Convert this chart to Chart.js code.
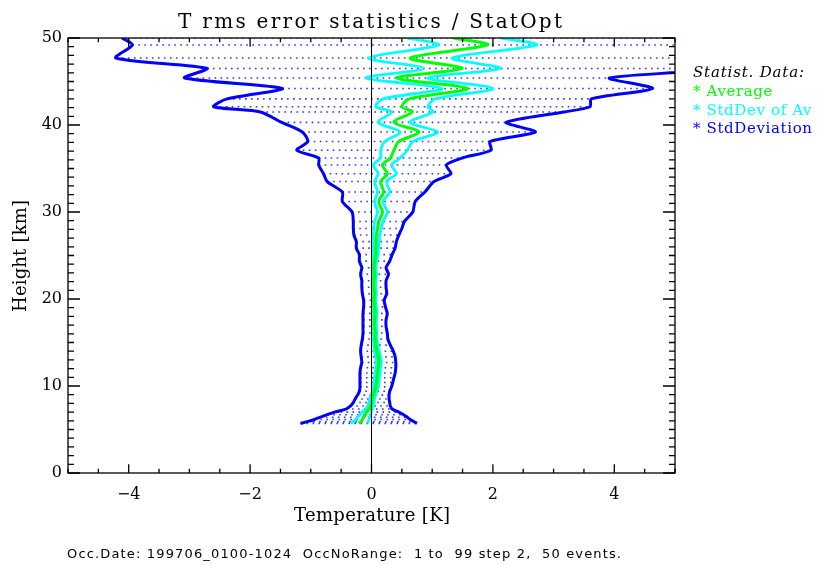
<!DOCTYPE html>
<html><head><meta charset="utf-8">
<script src="https://cdn.jsdelivr.net/npm/chart.js@4"></script>
<style>html,body{margin:0;padding:0;background:#fff}canvas{display:block}</style>
</head><body>
<canvas id="c" width="817" height="565"></canvas>
<script>
// ---- data ----
const heights = [50.0, 49.2, 47.7, 46.5, 45.4, 44.2, 43.0, 42.1, 41.5, 40.3, 39.2, 38.1, 37.1, 36.2, 35.4, 34.4, 33.5, 32.3, 31.2, 30.0,
  28.9, 28.1, 27.35, 26.6, 25.85, 25.1, 24.35, 23.6, 22.85, 22.1, 21.35, 20.6, 19.85, 19.1, 18.35, 17.6, 16.85, 16.1, 15.4, 14.7,
  14.0, 13.35, 12.7, 12.1, 11.5, 10.95, 10.4, 9.9, 9.4, 8.95, 8.5, 8.1, 7.7, 7.35, 7.0, 6.7, 6.4, 6.15, 5.9, 5.7];
const average = [1.36, 1.91, 0.64, 1.49, 0.42, 1.58, 0.62, 0.50, 0.67, 0.37, 0.78, 0.45, 0.37, 0.31, 0.18, 0.26, 0.15, 0.20, 0.12, 0.18,
  0.12, 0.10, 0.08, 0.08, 0.07, 0.07, 0.05, 0.04, 0.05, 0.04, 0.04, 0.05, 0.04, 0.05, 0.06, 0.05, 0.05, 0.06, 0.06, 0.07,
  0.09, 0.11, 0.12, 0.11, 0.10, 0.09, 0.08, 0.07, 0.05, 0.03, 0.01, 0.00, -0.02, -0.04, -0.08, -0.10, -0.13, -0.15, -0.18, -0.21];
const stdDevOfAvg = [0.77, 0.81, 0.69, 0.63, 0.51, 0.42, 0.43, 0.43, 0.34, 0.26, 0.31, 0.23, 0.22, 0.16, 0.15, 0.15, 0.10, 0.10, 0.07, 0.08,
  0.07, 0.06, 0.055, 0.05, 0.045, 0.04, 0.035, 0.03, 0.032, 0.03, 0.03, 0.03, 0.028, 0.028, 0.03, 0.03, 0.03, 0.03, 0.03, 0.035,
  0.038, 0.04, 0.04, 0.04, 0.04, 0.04, 0.04, 0.038, 0.036, 0.037, 0.04, 0.043, 0.047, 0.055, 0.075, 0.09, 0.10, 0.11, 0.125, 0.14];
const stdDeviation = [5.47, 5.85, 4.85, 4.20, 3.50, 3.05, 3.00, 3.10, 2.50, 1.85, 1.92, 1.50, 1.60, 1.18, 1.05, 1.05, 0.88, 0.68, 0.60, 0.50,
  0.42, 0.40, 0.37, 0.33, 0.32, 0.27, 0.25, 0.20, 0.23, 0.20, 0.20, 0.20, 0.17, 0.18, 0.20, 0.19, 0.19, 0.20, 0.21, 0.24,
  0.27, 0.28, 0.28, 0.29, 0.29, 0.28, 0.27, 0.26, 0.25, 0.26, 0.28, 0.30, 0.33, 0.38, 0.53, 0.63, 0.72, 0.79, 0.88, 0.96];

const xRange = [-5, 5];
const yRange = [0, 50];
const xTickValues = [-4, -2, 0, 2, 4];
const xTickLabels = ['\u22124', '\u22122', '0', '2', '4'];
const yTickValues = [0, 10, 20, 30, 40, 50];
const yTickLabels = ['0', '10', '20', '30', '40', '50'];
const xMinorStep = 0.5;
const yMinorStep = 1;

const titleText = 'T rms error statistics / StatOpt';
const xTitleText = 'Temperature [K]';
const yTitleText = 'Height [km]';
const legendTitle = 'Statist. Data:';
const legendLabels = ['Average', 'StdDev of Av', 'StdDeviation'];
const footerText = 'Occ.Date: 199706_0100-1024  OccNoRange:  1 to  99 step 2,  50 events.';

// ---- styles ----
const GREEN = '#00ff00', CYAN = '#00ffff', BLUE = '#0000ff';
const SERIF = '"DejaVu Serif", serif';

// ---- build series ----
const curve = f => heights.map((h, i) => ({ x: f(i), y: h }));
const avgPts = curve(i => average[i]);
const avgLoPts = curve(i => average[i] - stdDevOfAvg[i]);
const avgHiPts = curve(i => average[i] + stdDevOfAvg[i]);
const sdLoPts = curve(i => average[i] - stdDeviation[i]);
const sdHiPts = curve(i => average[i] + stdDeviation[i]);
const spanPts = [];
heights.forEach((h, i) => {
  spanPts.push({ x: average[i] - stdDeviation[i], y: h },
               { x: average[i] + stdDeviation[i], y: h },
               { x: null, y: null });
});
const zeroPts = [{ x: 0, y: yRange[0] }, { x: 0, y: yRange[1] }];

const lineDs = (data, color, w, tension) => ({
  data, borderColor: color, backgroundColor: color, borderWidth: w,
  pointRadius: 0, tension: tension || 0, capBezierPoints: false,
  fill: false, clip: 0, spanGaps: false
});

function spacedText(ctx, text, x, y, width) {
  ctx.letterSpacing = '0px';
  const w = ctx.measureText(text).width;
  const ls = text.length > 1 ? (width - w) / (text.length - 1) : 0;
  ctx.letterSpacing = ls + 'px';
  ctx.textAlign = 'left';
  ctx.fillText(text, x, y);
  ctx.letterSpacing = '0px';
  return ls;
}

const decor = {
  id: 'decor',
  afterDraw(chart) {
    const { ctx, chartArea: a } = chart;
    const xs = chart.scales.x, ys = chart.scales.y;
    ctx.save();
    ctx.strokeStyle = '#000';
    ctx.lineWidth = 1.3;
    ctx.strokeRect(a.left, a.top, a.right - a.left, a.bottom - a.top);
    ctx.beginPath();
    const xLen = 8.7, yLen = 12;
    const nx = Math.round((xRange[1] - xRange[0]) / xMinorStep);
    for (let k = 0; k <= nx; k++) {
      const v = xRange[0] + k * xMinorStep;
      const px = xs.getPixelForValue(v);
      const major = xTickValues.some(t => Math.abs(t - v) < 1e-9);
      const len = major ? xLen : xLen / 2;
      ctx.moveTo(px, a.bottom); ctx.lineTo(px, a.bottom - len);
      ctx.moveTo(px, a.top); ctx.lineTo(px, a.top + len);
    }
    const ny = Math.round((yRange[1] - yRange[0]) / yMinorStep);
    for (let k = 0; k <= ny; k++) {
      const v = yRange[0] + k * yMinorStep;
      const py = ys.getPixelForValue(v);
      const major = yTickValues.some(t => Math.abs(t - v) < 1e-9);
      const len = major ? yLen : yLen / 2;
      ctx.moveTo(a.left, py); ctx.lineTo(a.left + len, py);
      ctx.moveTo(a.right, py); ctx.lineTo(a.right - len, py);
    }
    ctx.stroke();

    ctx.fillStyle = '#000';
    ctx.textBaseline = 'alphabetic';
    ctx.font = '20px ' + SERIF;
    spacedText(ctx, titleText, 178, 28, 384);
    ctx.font = '18px ' + SERIF;
    spacedText(ctx, xTitleText, 294, 521, 156);
    ctx.save();
    ctx.translate(26, 312);
    ctx.rotate(-Math.PI / 2);
    ctx.font = '18px ' + SERIF;
    spacedText(ctx, yTitleText, 0, 0, 112);
    ctx.restore();
    ctx.font = 'italic 15px ' + SERIF;
    spacedText(ctx, legendTitle, 693, 77, 111);
    ctx.font = '15px ' + SERIF;
    ctx.letterSpacing = '0px';
    const ref = '* ' + legendLabels[2];
    const ls = (119 - ctx.measureText(ref).width) / (ref.length - 1);
    const colors = [GREEN, CYAN, BLUE];
    const baselines = [96, 115, 133];
    legendLabels.forEach((lab, i) => {
      ctx.fillStyle = colors[i];
      ctx.letterSpacing = ls + 'px';
      ctx.fillText('* ' + lab, 693, baselines[i]);
    });
    ctx.letterSpacing = '0px';
    ctx.fillStyle = '#000';
    ctx.font = '13px "DejaVu Sans", sans-serif';
    spacedText(ctx, footerText, 67, 558, 554);
    ctx.restore();
  }
};

new Chart(document.getElementById('c'), {
  type: 'line',
  data: {
    datasets: [
      Object.assign(lineDs(zeroPts, '#000', 1), { label: 'zero' }),
      Object.assign(lineDs(avgPts, GREEN, 3, 0.3), { label: legendLabels[0] }),
      Object.assign(lineDs(avgHiPts, CYAN, 2.8, 0.3), { label: legendLabels[1] + ' +' }),
      Object.assign(lineDs(avgLoPts, CYAN, 2.8, 0.3), { label: legendLabels[1] + ' -' }),
      Object.assign(lineDs(sdHiPts, BLUE, 3, 0.25), { label: legendLabels[2] + ' +' }),
      Object.assign(lineDs(sdLoPts, BLUE, 3, 0.25), { label: legendLabels[2] + ' -' }),
      Object.assign(lineDs(spanPts, 'rgba(30,30,255,0.9)', 1.6), { label: 'span', borderDash: [1.6, 4.4] })
    ]
  },
  options: {
    responsive: false,
    animation: false,
    devicePixelRatio: 1,
    layout: { padding: { top: 38, right: 142, bottom: 0, left: 0 } },
    plugins: { legend: { display: false }, title: { display: false }, tooltip: { enabled: false } },
    scales: {
      x: {
        type: 'linear', position: 'bottom', min: xRange[0], max: xRange[1],
        grid: { display: false, drawTicks: false }, border: { display: false },
        afterBuildTicks: s => { s.ticks = xTickValues.map(v => ({ value: v })); },
        afterFit: s => { s.height = 92; },
        ticks: {
          padding: 12, color: '#000', maxRotation: 0, autoSkip: false,
          font: { family: SERIF, size: 16 },
          callback: (v, i) => xTickLabels[i]
        }
      },
      y: {
        type: 'linear', position: 'left', min: yRange[0], max: yRange[1],
        grid: { display: false, drawTicks: false }, border: { display: false },
        afterBuildTicks: s => { s.ticks = yTickValues.map(v => ({ value: v })); },
        afterFit: s => { s.width = 68; },
        ticks: {
          padding: 6, color: '#000', autoSkip: false,
          font: { family: SERIF, size: 16 },
          callback: (v, i) => yTickLabels[i]
        }
      }
    }
  },
  plugins: [decor]
});
</script>
</body></html>
